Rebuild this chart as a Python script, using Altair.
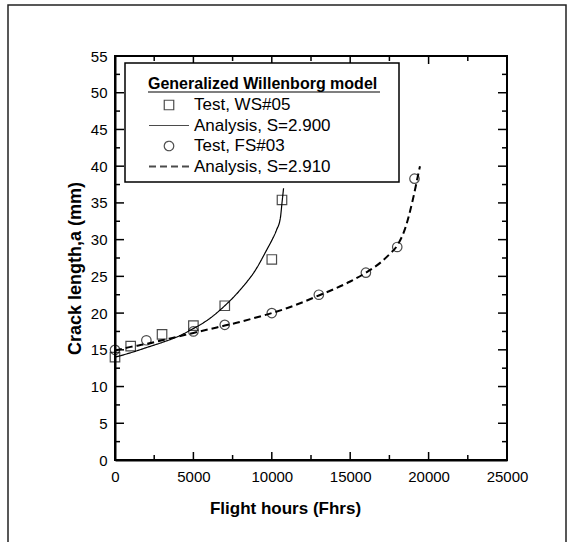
import altair as alt
import pandas as pd

# ---- data -------------------------------------------------------------
series_names = ["Test, WS#05", "Analysis, S=2.900", "Test, FS#03", "Analysis, S=2.910"]

ws05_hours = [0, 1000, 3000, 5000, 7000, 10000, 10650]
ws05_crack = [14.0, 15.5, 17.1, 18.3, 21.0, 27.3, 35.4]

fs03_hours = [0, 2000, 5000, 7000, 10000, 13000, 16000, 18000, 19100]
fs03_crack = [15.0, 16.3, 17.5, 18.4, 20.0, 22.5, 25.5, 29.0, 38.3]

fit_ws_hours = [0, 1000, 2000, 3000, 4000, 5000, 6000, 7000, 8000, 9000,
                9700, 10000, 10300, 10550, 10650, 10750]
fit_ws_crack = [14.0, 14.6, 15.3, 16.0, 16.8, 17.9, 19.2, 21.0, 23.2, 26.0,
                28.7, 29.9, 31.3, 33.0, 35.0, 37.0]

fit_fs_hours = [0, 1000, 2000, 3000, 4000, 5000, 6000, 7000, 8000, 9000,
                10000, 11000, 12000, 13000, 14000, 15000, 16000, 17000,
                17500, 18000, 18500, 19000, 19300, 19450]
fit_fs_crack = [14.9, 15.4, 15.8, 16.3, 16.8, 17.3, 17.8, 18.3, 18.8, 19.4,
                20.0, 20.7, 21.5, 22.4, 23.3, 24.3, 25.5, 27.0,
                28.0, 29.2, 31.5, 35.5, 38.5, 40.0]

x_major = [0, 5000, 10000, 15000, 20000, 25000]
x_minor = [2500, 7500, 12500, 17500, 22500]
y_major = list(range(0, 56, 5))
y_minor = [2.5 + 5 * i for i in range(11)]

# ---- tables -------------------------------------------------------------
tests = pd.concat([
    pd.DataFrame({"hours": ws05_hours, "crack": ws05_crack, "series": series_names[0]}),
    pd.DataFrame({"hours": fs03_hours, "crack": fs03_crack, "series": series_names[2]}),
])
fits = pd.concat([
    pd.DataFrame({"hours": fit_ws_hours, "crack": fit_ws_crack, "series": series_names[1]}),
    pd.DataFrame({"hours": fit_fs_hours, "crack": fit_fs_crack, "series": series_names[3]}),
])

W, H = 392, 404
FONT = "Liberation Sans"

xscale = alt.Scale(domain=[0, 25000], nice=False, zero=False)
yscale = alt.Scale(domain=[0, 55], nice=False, zero=False)

x_axis = alt.Axis(values=x_major, format="d", tickSize=0, labelPadding=9,
                  labelFontSize=15, labelFont=FONT, labelColor="black",
                  labelFlush=False, title="Flight hours (Fhrs)", titleFontSize=17,
                  titleFont=FONT, titleFontWeight="bold", titleColor="black",
                  titleX=170, titleY=48, titleBaseline="middle", titleAnchor="middle",
                  domainColor="black", domainWidth=2, grid=False)
y_axis = alt.Axis(values=y_major, tickSize=0, labelPadding=8,
                  labelFontSize=15, labelFont=FONT, labelColor="black",
                  labelFlush=False, title="Crack length,a (mm)", titleFontSize=18,
                  titleFont=FONT, titleFontWeight="bold", titleColor="black",
                  titleX=-40, titleY=212, titleBaseline="middle", titleAnchor="middle",
                  domainColor="black", domainWidth=2, grid=False)


def X(field):
    return alt.X(field, scale=xscale, axis=x_axis)


def Y(field):
    return alt.Y(field, scale=yscale, axis=y_axis)


legend = alt.Legend(
    orient="none", legendX=33, legendY=20, padding=0,
    title="Generalized Willenborg model", titleFont=FONT, titleFontSize=16,
    titleFontWeight="bold", titleColor="black", titlePadding=3, titleLimit=400,
    labelFont=FONT, labelFontSize=17, labelColor="black", labelOffset=4, labelLimit=400,
    symbolStrokeColor="black", symbolFillColor="transparent",
    clipHeight=20, rowPadding=0.5,
)

shape_scale = alt.Scale(type="ordinal", domain=series_names,
                        range=["square", "stroke", "circle", "stroke"])
size_scale = alt.Scale(type="ordinal", domain=series_names, range=[90, 1600, 90, 1600])
dash_scale = alt.Scale(type="ordinal", domain=series_names,
                       range=[[1, 0], [1, 0], [1, 0], [7, 4]])
width_scale = alt.Scale(type="ordinal", domain=series_names, range=[1.2, 1.2, 1.2, 2])

curves = alt.Chart(fits).mark_line(color="black", interpolate="monotone").encode(
    x=X("hours:Q"),
    y=Y("crack:Q"),
    detail="series:N",
    strokeDash=alt.StrokeDash("series:N", scale=dash_scale, legend=legend),
    strokeWidth=alt.StrokeWidth("series:N", scale=width_scale, legend=legend),
)

points = alt.Chart(tests).mark_point(filled=False, color="black", strokeWidth=1.2).encode(
    x=X("hours:Q"),
    y=Y("crack:Q"),
    shape=alt.Shape("series:N", scale=shape_scale, legend=legend),
    size=alt.Size("series:N", scale=size_scale, legend=legend),
)

blank = alt.Data(values=[{}])

# white box behind the key, with the underline beneath its heading
key_box = alt.Chart(blank).mark_rect(fill="white", stroke="black", strokeWidth=1.5).encode(
    x=alt.value(10), x2=alt.value(284), y=alt.value(7), y2=alt.value(126))
key_rule = alt.Chart(blank).mark_rule(color="black", strokeWidth=1.2).encode(
    x=alt.value(33), x2=alt.value(265), y=alt.value(36))

# frame around the whole figure
frame = alt.Chart(blank).mark_rect(fill="transparent", stroke="#222", strokeWidth=1.5,
                                   clip=False).encode(
    x=alt.value(-107), x2=alt.value(451), y=alt.value(-51), y2=alt.value(489))


def ticks(values, length, along):
    """Inward ticks on both opposite sides of the frame."""
    df = pd.DataFrame({"v": values})
    base = alt.Chart(df).mark_rule(color="black", strokeWidth=1.5)
    if along == "x":
        enc = X("v:Q")
        return [base.encode(x=enc, y=alt.value(H), y2=alt.value(H - length)),
                base.encode(x=enc, y=alt.value(0), y2=alt.value(length))]
    enc = Y("v:Q")
    return [base.encode(y=enc, x=alt.value(0), x2=alt.value(length)),
            base.encode(y=enc, x=alt.value(W), x2=alt.value(W - length))]


tick_layers = (ticks(x_major, 8, "x") + ticks(x_minor, 5, "x")
               + ticks(y_major, 9, "y") + ticks(y_minor, 5, "y"))

chart = alt.layer(
    curves, points, *tick_layers, key_box, key_rule, frame
).properties(
    width=W, height=H,
    autosize=alt.AutoSizeParams(type="none"),
    padding={"left": 115, "top": 56, "right": 62, "bottom": 82},
    background="white",
).configure_view(
    stroke="black", strokeWidth=2
)

chart.save("out.html", embed_options={"renderer": "svg", "actions": False})
